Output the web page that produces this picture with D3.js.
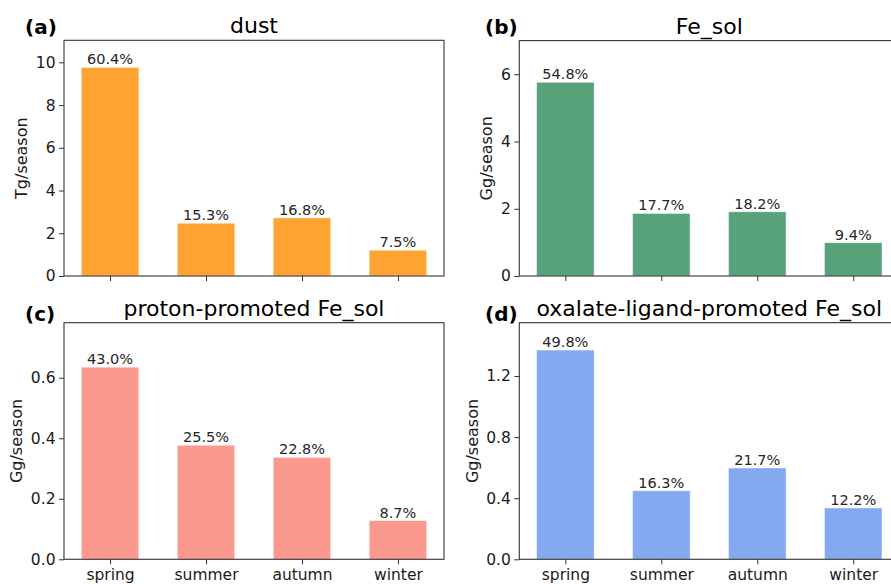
<!DOCTYPE html>
<html>
<head>
<meta charset="utf-8">
<script src="https://cdn.jsdelivr.net/npm/d3@7"></script>
<style>
  html, body { margin: 0; padding: 0; background: #fff; overflow: hidden; }
  svg { display: block; font-family: "DejaVu Sans", sans-serif; }
</style>
</head>
<body>
<svg id="chart" width="891" height="584"></svg>
<script>
// ---------- data ----------
const categories = ["spring", "summer", "autumn", "winter"];

const dustValues = [9.76, 2.47, 2.72, 1.21];
const dustPercents = ["60.4%", "15.3%", "16.8%", "7.5%"];
const dustTicks = [0, 2, 4, 6, 8, 10];

const feSolValues = [5.76, 1.86, 1.91, 0.99];
const feSolPercents = ["54.8%", "17.7%", "18.2%", "9.4%"];
const feSolTicks = [0, 2, 4, 6];

const protonValues = [0.635, 0.377, 0.337, 0.128];
const protonPercents = ["43.0%", "25.5%", "22.8%", "8.7%"];
const protonTicks = [0.0, 0.2, 0.4, 0.6];

const oxalateValues = [1.37, 0.449, 0.598, 0.336];
const oxalatePercents = ["49.8%", "16.3%", "21.7%", "12.2%"];
const oxalateTicks = [0.0, 0.4, 0.8, 1.2];

// ---------- panel setup ----------
const panels = [
  { tag: "(a)", title: "dust", unit: "Tg/season", values: dustValues, pct: dustPercents,
    ticks: dustTicks, ymax: 11.03, fmt: d3.format("d"), color: "#FFA333",
    left: 64, top: 40.3, width: 380, height: 235.7, tagX: 25, tagY: 34, xLabels: false },
  { tag: "(b)", title: "Fe_sol", unit: "Gg/season", values: feSolValues, pct: feSolPercents,
    ticks: feSolTicks, ymax: 7.0, fmt: d3.format("d"), color: "#58A279",
    left: 519.3, top: 40.6, width: 380, height: 235.4, tagX: 485, tagY: 34, xLabels: false },
  { tag: "(c)", title: "proton-promoted Fe_sol", unit: "Gg/season", values: protonValues, pct: protonPercents,
    ticks: protonTicks, ymax: 0.782, fmt: d3.format(".1f"), color: "#FB998E",
    left: 64, top: 322.7, width: 380, height: 236.6, tagX: 25, tagY: 320.5, xLabels: true },
  { tag: "(d)", title: "oxalate-ligand-promoted Fe_sol", unit: "Gg/season", values: oxalateValues, pct: oxalatePercents,
    ticks: oxalateTicks, ymax: 1.549, fmt: d3.format(".1f"), color: "#83AAF1",
    left: 519.3, top: 322.7, width: 380, height: 236.6, tagX: 485, tagY: 320.5, xLabels: true }
];

const svg = d3.select("#chart");
const tickFont = 15.5;

panels.forEach(p => {
  const g = svg.append("g").attr("transform", `translate(${p.left},${p.top})`);

  const x = d3.scaleLinear().domain([-0.48, 3.48]).range([0, p.width]);
  const y = d3.scaleLinear().domain([0, p.ymax]).range([p.height, 0]);
  const bw = x(0.3) - x(-0.3);

  // bars
  g.selectAll("rect.bar").data(p.values).enter().append("rect")
    .attr("class", "bar")
    .attr("x", (d, i) => x(i) - bw / 2)
    .attr("y", d => y(d))
    .attr("width", bw)
    .attr("height", d => y(0) - y(d))
    .attr("fill", p.color)
    .attr("stroke", "#ffffff")
    .attr("stroke-opacity", 0.6)
    .attr("stroke-width", 0.8);

  // percent labels
  g.selectAll("text.pct").data(p.values).enter().append("text")
    .attr("class", "pct")
    .attr("x", (d, i) => x(i))
    .attr("y", d => y(d) - 3)
    .attr("text-anchor", "middle")
    .attr("font-size", 14.5)
    .attr("fill", "#262626")
    .text((d, i) => p.pct[i]);

  // y axis
  const yAxis = g.append("g")
    .call(d3.axisLeft(y).tickValues(p.ticks).tickFormat(p.fmt).tickSize(5).tickPadding(3.5));
  yAxis.select(".domain").remove();
  yAxis.selectAll("line").attr("stroke", "#333").attr("stroke-width", 1);
  yAxis.selectAll("text").attr("font-size", tickFont).attr("fill", "#1a1a1a")
    .attr("font-family", "DejaVu Sans, sans-serif");

  // x axis
  const xAxis = g.append("g").attr("transform", `translate(0,${p.height})`)
    .call(d3.axisBottom(x).tickValues([0, 1, 2, 3])
      .tickFormat(i => p.xLabels ? categories[i] : "").tickSize(5).tickPadding(4.5));
  xAxis.select(".domain").remove();
  xAxis.selectAll("line").attr("stroke", "#333").attr("stroke-width", 1);
  xAxis.selectAll("text").attr("font-size", tickFont).attr("fill", "#1a1a1a")
    .attr("font-family", "DejaVu Sans, sans-serif");

  // spines
  g.append("rect")
    .attr("x", 0).attr("y", 0).attr("width", p.width).attr("height", p.height)
    .attr("fill", "none").attr("stroke", "#333").attr("stroke-width", 1.1);

  // y label, placed left of tick labels
  const bb = yAxis.node().getBBox();
  g.append("text")
    .attr("transform", `translate(${bb.x - 8.5},${p.height / 2}) rotate(-90)`)
    .attr("text-anchor", "middle")
    .attr("font-size", 16)
    .attr("fill", "#1a1a1a")
    .text(p.unit);

  // title
  g.append("text")
    .attr("x", p.width / 2)
    .attr("y", -7)
    .attr("text-anchor", "middle")
    .attr("font-size", 22)
    .attr("fill", "#000")
    .text(p.title);

  // panel tag
  svg.append("text")
    .attr("x", p.tagX)
    .attr("y", p.tagY)
    .attr("font-size", 20)
    .attr("font-weight", "bold")
    .attr("fill", "#000")
    .text(p.tag);
});
</script>
</body>
</html>
